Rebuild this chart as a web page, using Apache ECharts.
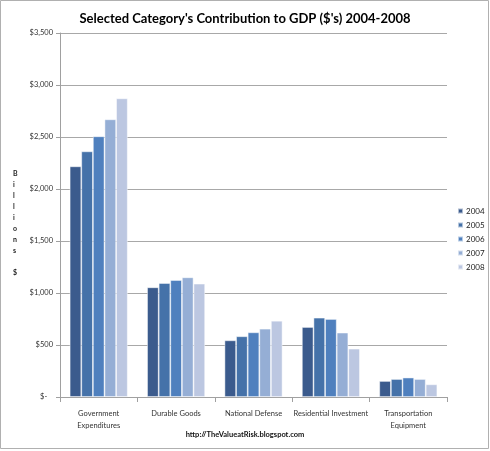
<!DOCTYPE html>
<html><head><meta charset="utf-8">
<script src="https://cdn.jsdelivr.net/npm/echarts@6/dist/echarts.min.js"></script>
<style>html,body{margin:0;padding:0;background:#fff}#c{width:490px;height:451px}</style>
</head><body><div id="c"></div>
<script>
const categories = ['Government\nExpenditures','Durable Goods','National Defense','Residential Investment','Transportation\nEquipment'];
const years = ['2004','2005','2006','2007','2008'];
const s2004 = [2218, 1055, 545, 673, 154];
const s2005 = [2362, 1096, 584, 763, 173];
const s2006 = [2507, 1125, 622, 750, 187];
const s2007 = [2670, 1151, 657, 619, 173];
const s2008 = [2872, 1090, 733, 465, 122];
const yTicks = [0, 500, 1000, 1500, 2000, 2500, 3000, 3500];
const colors = ['#3b5b8d','#4572a9','#4f80be','#95aed5','#bcc7e1'];
const seriesData = [s2004, s2005, s2006, s2007, s2008];
const font = 'Lato, "Open Sans", sans-serif';
const chart = echarts.init(document.getElementById('c'), null, {renderer:'canvas'});
chart.setOption({
  backgroundColor:'#fff',
  animation:false,
  title:{text:"Selected Category's Contribution to GDP ($'s) 2004-2008", left:'center', top:7,
    textStyle:{fontFamily:font, fontSize:13, fontWeight:'bold', color:'#000'}},
  legend:{data:years, orient:'vertical', left:452, top:202, itemWidth:5, itemHeight:5, itemGap:6,
    icon:'rect', textStyle:{fontFamily:font, fontSize:8, color:'#222', padding:[0,0,0,-2]}},
  grid:{left:60, right:43, top:33, bottom:54},
  xAxis:{type:'category', data:categories,
    axisLine:{lineStyle:{color:'#a0a0a0'}}, axisTick:{show:true, lineStyle:{color:'#a0a0a0'}},
    axisLabel:{fontFamily:font, fontSize:7.5, color:'#333', margin:11, lineHeight:12, interval:0}},
  yAxis:{type:'value', min:0, max:yTicks[yTicks.length-1], interval:500,
    axisLine:{show:true, lineStyle:{color:'#a0a0a0'}}, axisTick:{show:true, length:4, lineStyle:{color:'#a0a0a0'}},
    splitLine:{lineStyle:{color:'#a8a8a8'}},
    axisLabel:{fontFamily:font, fontSize:7.5, color:'#333', margin:7,
      formatter:v => v===0 ? '$-   ' : '$' + v.toLocaleString('en-US')}},
  graphic:[
    {type:'rect', shape:{x:0.5,y:0.5,width:488,height:448}, style:{fill:'none', stroke:'#b0b0b0', lineWidth:1}, silent:true},
    {type:'text', left:13, top:168, style:{text:'B\ni\nl\nl\ni\no\nn\ns\n\n$', fontFamily:font, fontSize:7, fontWeight:'bold', fill:'#222', lineHeight:11, align:'center'}},
    {type:'text', left:'center', top:431, style:{text:'http://TheValueatRisk.blogspot.com', fontFamily:font, fontSize:7.5, fontWeight:'bold', fill:'#111'}}
  ],
  series: years.map((y,i)=>({name:y, type:'bar', data:seriesData[i], barGap:'0%', barCategoryGap:'25%',
    itemStyle:{color:colors[i], borderColor:'rgba(255,255,255,0.6)', borderWidth:0.8}}))
});
</script></body></html>
